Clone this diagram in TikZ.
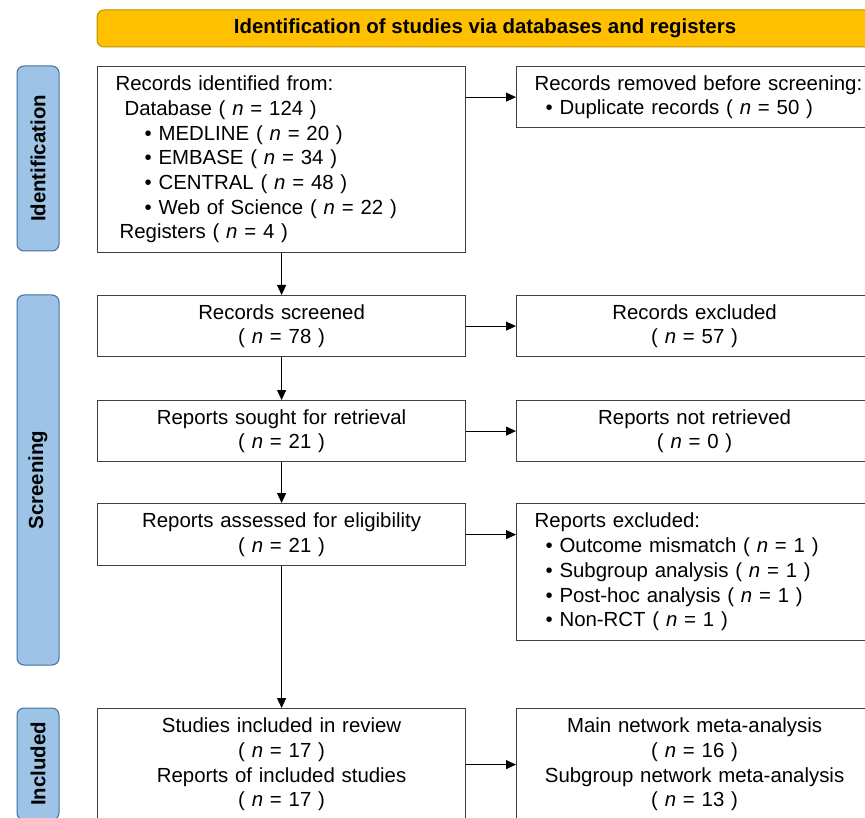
\documentclass[tikz,border=0pt]{standalone}
\usepackage{fontspec}
\setmainfont{Liberation Sans}
\usetikzlibrary{arrows.meta}
\definecolor{bannerfill}{HTML}{FFC000}
\definecolor{bannerdraw}{HTML}{BF9000}
\definecolor{labfill}{HTML}{9DC3E6}
\definecolor{labdraw}{HTML}{41719C}
\definecolor{boxdraw}{HTML}{3F3F3F}
\newcommand{\nn}{\textit{n}}
\tikzset{
  box/.style={draw=boxdraw, line width=1.2pt, fill=white, inner sep=0pt, anchor=north west,
    font=\fontsize{20.4}{24.7}\selectfont},
  cbox/.style={box, align=center, text width=#1, minimum width=#1},
  lbox/.style={box, align=left, inner xsep=18pt, text width=#1, minimum width=#1+36pt},
  phase/.style={draw=labdraw, fill=labfill, line width=1pt, rounded corners=7pt,
    minimum height=42pt, inner sep=0pt, rotate=90,
    font=\bfseries\fontsize{20.4}{24}\selectfont},
  banner/.style={draw=bannerdraw, fill=bannerfill, line width=1pt, rounded corners=7pt,
    minimum width=776pt, minimum height=37pt, inner sep=0pt,
    font=\bfseries\fontsize{20.4}{24}\selectfont},
  arr/.style={-{Triangle[length=10pt,width=9pt]}, line width=0.9pt, draw=black},
}
\begin{document}
\begin{tikzpicture}[x=1pt,y=-1pt]
\useasboundingbox (0,0) rectangle (865,818);
\clip (0,0) rectangle (865,818);

\node[banner] (ban) at (485,28.5) {Identification of studies via databases and registers};

\node[phase, minimum width=185pt] (pid) at (38,158.5) {Identification};
\node[phase, minimum width=370pt] (psc) at (38,480) {Screening};
\node[phase, minimum width=112pt] (pin) at (38,764) {Included};

\node[lbox=332pt, minimum height=186pt] (b1) at (97,66) {%
Records identified from:\\
\hspace*{9pt}Database ( \nn{} = 124 )\\
\hspace*{29pt}• MEDLINE ( \nn{} = 20 )\\
\hspace*{29pt}• EMBASE ( \nn{} = 34 )\\
\hspace*{29pt}• CENTRAL ( \nn{} = 48 )\\
\hspace*{29pt}• Web of Science ( \nn{} = 22 )\\
\hspace*{4pt}Registers ( \nn{} = 4 )};

\node[lbox=345pt, minimum height=61pt] (b2) at (516,66) {%
Records removed before screening:\\
\hspace*{11pt}• Duplicate records ( \nn{} = 50 )};

\node[cbox=368pt, minimum height=61pt] (b3) at (97,295) {Records screened\\( \nn{} = 78 )};
\node[cbox=356pt, minimum height=61pt] (b4) at (516,295) {Records excluded\\( \nn{} = 57 )};

\node[cbox=368pt, minimum height=61pt] (b5) at (97,400) {Reports sought for retrieval\\( \nn{} = 21 )};
\node[cbox=356pt, minimum height=61pt] (b6) at (516,400) {Reports not retrieved\\( \nn{} = 0 )};

\node[cbox=368pt, minimum height=62pt] (b7) at (97,503) {Reports assessed for eligibility\\( \nn{} = 21 )};
\node[lbox=345pt, minimum height=137pt] (b8) at (516,503) {%
Reports excluded:\\
\hspace*{11pt}• Outcome mismatch ( \nn{} = 1 )\\
\hspace*{11pt}• Subgroup analysis ( \nn{} = 1 )\\
\hspace*{11pt}• Post-hoc analysis ( \nn{} = 1 )\\
\hspace*{11pt}• Non-RCT ( \nn{} = 1 )};

\node[cbox=368pt, minimum height=112pt] (b9) at (97,708) {Studies included in review\\( \nn{} = 17 )\\Reports of included studies\\( \nn{} = 17 )};
\node[cbox=356pt, minimum height=112pt] (b10) at (516,708) {Main network meta-analysis\\( \nn{} = 16 )\\Subgroup network meta-analysis\\( \nn{} = 13 )};

\draw[arr] (b1.south) -- (b3.north);
\draw[arr] (b3.south) -- (b5.north);
\draw[arr] (b5.south) -- (b7.north);
\draw[arr] (b7.south) -- (b9.north);

\draw[arr] (b1.east |- b2.west) -- (b2.west);
\draw[arr] (b3.east) -- (b4.west);
\draw[arr] (b5.east) -- (b6.west);
\draw[arr] (b7.east) -- (b7.east -| b8.west);
\draw[arr] (b9.east) -- (b10.west);
\end{tikzpicture}
\end{document}
